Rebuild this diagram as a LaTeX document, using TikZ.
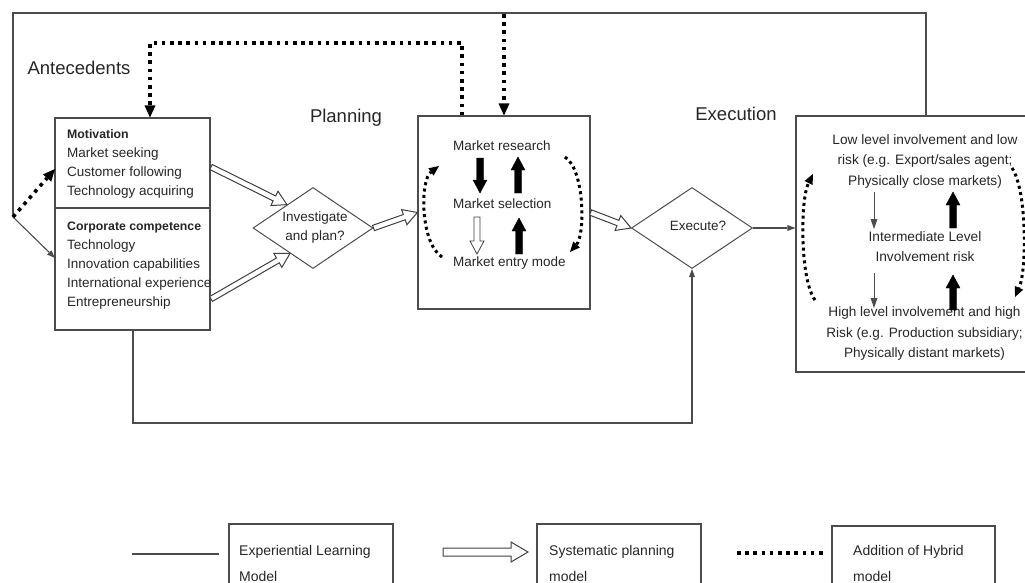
\documentclass[tikz,border=0pt]{standalone}
\usepackage{fontspec}
\setmainfont{Liberation Sans}
\usetikzlibrary{arrows.meta,calc,shapes.geometric}
\newcommand{\blockarr}[6][]{%
  \coordinate (baP) at ($(#3)!#6!(#2)$);
  \draw[#1] ($(#2)!#4!90:(#3)$) -- ($(baP)!#4!90:(#3)$) -- ($(baP)!#5!90:(#3)$) -- (#3) -- ($(baP)!#5!-90:(#3)$) -- ($(baP)!#4!-90:(#3)$) -- ($(#2)!#4!-90:(#3)$) -- cycle;}
\newcommand{\smtxt}{\fontsize{13.5}{19}\selectfont}
\newcommand{\bdtxt}{\fontsize{12.3}{19}\selectfont\bfseries}
\newcommand{\hdtxt}{\fontsize{18.5}{22}\selectfont}
\begin{document}
\begin{tikzpicture}[x=1pt,y=-1pt,
  ln/.style={draw=black!70, line width=1.1pt},
  boxst/.style={draw=black!70, line width=1.1pt, rectangle, inner sep=0},
  diast/.style={draw=black!70, line width=1pt, diamond, inner sep=0},
  dotln/.style={draw=black, line width=3.6pt, dash pattern=on 3.6pt off 4.6pt},
  dotsm/.style={draw=black, line width=3pt, dash pattern=on 3pt off 3.4pt},
  harr/.style={draw=black!75, line width=1pt, fill=white},
  farr/.style={draw=black, fill=black, line width=0.4pt},
  BigTri/.tip={Triangle[length=12pt,width=11pt,line width=0pt]},
  MidTri/.tip={Triangle[length=10pt,width=9pt,line width=0pt]},
  SmTri/.tip={Triangle[length=8pt,width=6pt,line width=0pt]},
  txt/.style={inner sep=0, text=black!85, font=\smtxt},
  head/.style={inner sep=0, text=black!85, font=\hdtxt}]
\useasboundingbox (0,0) rectangle (1025,583);

% headings
\node[head] (hA) at (79,68) {Antecedents};
\node[head] (hP) at (346,118) {Planning};
\node[head] (hE) at (736,114) {Execution};

% main shapes
\node[boxst, minimum width=155pt, minimum height=90pt] (mot) at (132.5,163) {};
\node[boxst, minimum width=155pt, minimum height=122pt] (comp) at (132.5,269) {};
\node[diast, minimum width=120pt, minimum height=81pt] (inv) at (313,228) {};
\node[boxst, minimum width=172pt, minimum height=193pt] (plan) at (504,212.5) {};
\node[diast, minimum width=121pt, minimum height=81pt] (exe) at (692,228) {};
\node[boxst, minimum width=240pt, minimum height=256pt] (exb) at (916,244) {};

% box texts
\node[txt, anchor=north west, align=left] (motT) at (67,129)
  {{\bdtxt Motivation}\\Market seeking\\Customer following\\Technology acquiring};
\node[txt, anchor=north west, align=left] (compT) at (67,222)
  {{\bdtxt Corporate competence}\\Technology\\Innovation capabilities\\International experience\\Entrepreneurship};
\node[txt, align=center, font=\fontsize{13.5}{19}\selectfont] (invT) at (315,227.5) {Investigate\\and plan?};
\node[txt, text height=10pt, text depth=3pt, anchor=west] (mr) at (453,147) {Market research};
\node[txt, text height=10pt, text depth=3pt, anchor=west] (ms) at (453,205) {Market selection};
\node[txt, text height=10pt, text depth=3pt, anchor=west] (me) at (453,263) {Market entry mode};
\node[txt] (exeT) at (698,226) {Execute?};
\node[txt, align=center, font=\fontsize{13.7}{20.5}\selectfont] (lowT) at (925,161)
  {Low level involvement and low\\risk (e.g. Export/sales agent;\\Physically close markets)};
\node[txt, align=center, font=\fontsize{13.7}{19.5}\selectfont] (midT) at (925,246.5)
  {Intermediate Level\\Involvement risk};
\node[txt, align=center, font=\fontsize{13.6}{20.5}\selectfont] (highT) at (924.5,333.5)
  {High level involvement and high\\Risk (e.g. Production subsidiary;\\Physically distant markets)};

% frame (experiential learning loop)
\coordinate (TL) at (13,13);
\coordinate (TR) at (926,13);
\coordinate (J) at (13,217);
\coordinate (jt1) at (55,169);
\coordinate (jt2) at (55,258);
\draw[ln] (exb.north -| TR) -- (TR) -- (TL) -- (J);
\draw[ln, -{SmTri}] (J) -- (jt2);
\draw[dotln, -{BigTri}] (J) -- (jt1);

% top dotted connectors
\coordinate (d1) at (462,43);
\coordinate (d2) at (150,43);
\coordinate (d3) at (504,14);
\draw[dotln, -{BigTri}] (plan.north -| d1) -- (d1) -- (d2) -- (mot.north -| d2);
\draw[dotln, -{BigTri}] (d3) -- (plan.north -| d3);

% bottom feedback
\coordinate (b1) at (133,423);
\coordinate (b2) at (692,423);
\draw[ln, -{SmTri}] (comp.south -| b1) -- (b1) -- (b2) -- (exe.south);

% hollow (systematic planning) arrows
\coordinate (h1s) at (211,167);
\coordinate (h1e) at ($(inv.west)!0.57!(inv.north)$);
\coordinate (h2s) at (211,299);
\coordinate (h2e) at ($(inv.west)!0.62!(inv.south)$);
\blockarr[harr]{h1s}{h1e}{2.8pt}{8pt}{14pt}
\blockarr[harr]{h2s}{h2e}{2.8pt}{8pt}{14pt}
\blockarr[harr]{inv.east}{plan.west}{2.8pt}{8pt}{14pt}
\blockarr[harr]{plan.east}{exe.west}{2.8pt}{8pt}{14pt}

% planning inner arrows
\coordinate (pa1s) at (480,158); \coordinate (pa1e) at (480,193);
\coordinate (pa2s) at (518,193); \coordinate (pa2e) at (518,157);
\coordinate (pa3s) at (477,217); \coordinate (pa3e) at (477,254);
\coordinate (pa4s) at (519,254); \coordinate (pa4e) at (519,218);
\blockarr[farr]{pa1s}{pa1e}{3.5pt}{7pt}{13pt}
\blockarr[farr]{pa2s}{pa2e}{3.5pt}{7pt}{13pt}
\blockarr[harr, line width=0.8pt]{pa3s}{pa3e}{3pt}{7pt}{13pt}
\blockarr[farr]{pa4s}{pa4e}{3.5pt}{7pt}{13pt}

% planning dotted loops
\coordinate (pl1) at (442,257); \coordinate (pl2) at (439,166);
\coordinate (pr1) at (565,157); \coordinate (pr2) at (570,252);
\draw[dotsm, -{MidTri}] (pl1) .. controls (420,243) and (420,180) .. (pl2);
\draw[dotsm, -{MidTri}] (pr1) .. controls (585,170) and (585,235) .. (pr2);

% execution
\draw[ln, -{SmTri}] (exe.east) -- (exb.west |- exe.east);
\coordinate (ea1s) at (874,192); \coordinate (ea1e) at (874,229);
\coordinate (ea2s) at (874,273); \coordinate (ea2e) at (874,308);
\draw[ln, line width=1pt, -{Triangle[length=10pt,width=7pt,line width=0pt]}] (ea1s) -- (ea1e);
\draw[ln, line width=1pt, -{Triangle[length=10pt,width=7pt,line width=0pt]}] (ea2s) -- (ea2e);
\coordinate (eb1s) at (953,228); \coordinate (eb1e) at (953,192);
\coordinate (eb2s) at (953,310); \coordinate (eb2e) at (953,275);
\blockarr[farr]{eb1s}{eb1e}{3.5pt}{7pt}{13pt}
\blockarr[farr]{eb2s}{eb2e}{3.5pt}{7pt}{13pt}
\coordinate (el1) at (815,300); \coordinate (el2) at (813,174);
\coordinate (er1) at (1012,168); \coordinate (er2) at (1015,297);
\draw[dotsm, -{MidTri}] (el1) .. controls (800,280) and (800,200) .. (el2);
\draw[dotsm, -{MidTri}] (er1) .. controls (1027,190) and (1027,270) .. (er2);

% legend
\node[boxst, minimum width=164pt, minimum height=76pt] (lb1) at (311,562) {};
\node[boxst, minimum width=164pt, minimum height=76pt] (lb2) at (619,562) {};
\node[boxst, minimum width=163pt, minimum height=76pt] (lb3) at (913.5,564) {};
\node[txt, anchor=west, align=left, font=\fontsize{14}{26}\selectfont] (lt1) at (239,563.5) {Experiential Learning\\Model};
\node[txt, anchor=west, align=left, font=\fontsize{14}{26}\selectfont] (lt2) at (549,563.5) {Systematic planning\\model};
\node[txt, anchor=west, align=left, font=\fontsize{14}{26}\selectfont] (lt3) at (853,563.5) {Addition of Hybrid\\model};
\coordinate (ls1) at (132,554); \coordinate (ls2) at (219,554);
\draw[ln] (ls1) -- (ls2);
\coordinate (lh1) at (443,552); \coordinate (lh2) at (528,552);
\blockarr[harr]{lh1}{lh2}{4pt}{10pt}{17pt}
\coordinate (ld1) at (737,553); \coordinate (ld2) at (824,553);
\draw[dotln] (ld1) -- (ld2);
\end{tikzpicture}
\end{document}
